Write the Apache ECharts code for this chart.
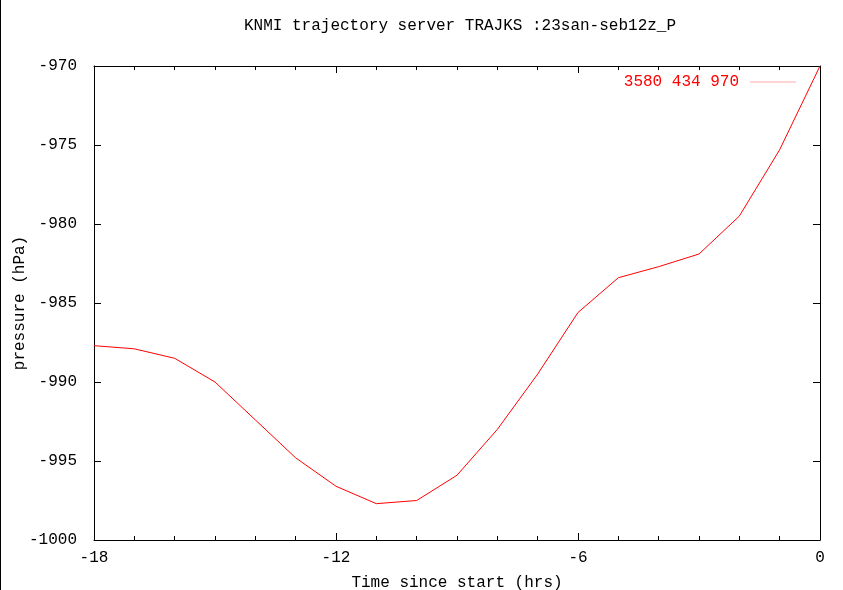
<!DOCTYPE html>
<html><head><meta charset="utf-8">
<script src="https://cdn.jsdelivr.net/npm/echarts@6/dist/echarts.min.js"></script>
<style>html,body{margin:0;padding:0;background:#fff}#c{width:843px;height:590px}</style>
</head><body><div id="c"></div>
<script>
var hours = [-18,-17,-16,-15,-14,-13,-12,-11,-10,-9,-8,-7,-6,-5,-4,-3,-2,-1,0];
var pressure = [-987.7,-987.9,-988.5,-990.0,-992.4,-994.8,-996.6,-997.7,-997.5,-995.9,-993.0,-989.5,-985.6,-983.4,-982.7,-981.9,-979.5,-975.3,-970.0];
var seriesName = '3580 434 970';
var titleText = 'KNMI trajectory server TRAJKS :23san-seb12z_P';
var xName = 'Time since start (hrs)';
var yName = 'pressure (hPa)';

var font = 'Liberation Mono';
var fs = 16;
var chart = echarts.init(document.getElementById('c'), null, {renderer:'canvas'});
var pts = hours.map(function(h,i){return [h, pressure[i]];});
function plain(v){ return String(v); }
function xAx(pos, show){
  return {type:'value', position:pos, min:-18, max:0, interval:6,
    axisLine:{show:true, onZero:false, lineStyle:{color:'#000', width:1}},
    axisTick:{show:true, inside:true, length:7, lineStyle:{color:'#000'}},
    minorTick:{show:true, splitNumber:6, length:4, lineStyle:{color:'#000'}},
    splitLine:{show:false},
    axisLabel:{show:show, color:'#000', fontFamily:font, fontSize:fs, margin:10, formatter:plain},
    name: show ? xName : '', nameLocation:'middle', nameGap:35, nameMoveOverlap:false,
    nameTextStyle:{color:'#000', fontFamily:font, fontSize:fs}
  };
}
function yAx(pos, show){
  return {type:'value', position:pos, min:-1000, max:-970, interval:5,
    axisLine:{show:true, onZero:false, lineStyle:{color:'#000', width:1}},
    axisTick:{show:true, inside:true, length:7, lineStyle:{color:'#000'}},
    splitLine:{show:false},
    axisLabel:{show:show, color:'#000', fontFamily:font, fontSize:fs, margin:17, formatter:plain},
    name: show ? yName : '', nameLocation:'middle', nameGap:66, nameRotate:90, nameMoveOverlap:false,
    nameTextStyle:{color:'#000', fontFamily:font, fontSize:fs}
  };
}
chart.setOption({
  animation:false,
  title:{text:titleText, left:455, textAlign:'center', top:13,
    textStyle:{color:'#000', fontFamily:font, fontSize:fs, fontWeight:'normal'}},
  grid:{left:94, right:23, top:66, bottom:50, containLabel:false, outerBoundsMode:'none'},
  legend:{right:42, top:69, align:'right', icon:'rect', itemWidth:46, itemHeight:1, itemGap:0,
    itemStyle:{color:'#ffaaaa'},
    textStyle:{color:'#ff0000', fontFamily:font, fontSize:fs, padding:[0,6,0,0]},
    data:[seriesName]},
  xAxis:[xAx('bottom', true), xAx('top', false)],
  yAxis:[yAx('left', true), yAx('right', false)],
  graphic:[{type:'line', shape:{x1:0.5,y1:0,x2:0.5,y2:590}, style:{stroke:'#000', lineWidth:1}}],
  series:[{name:seriesName, type:'line', data:pts, symbol:'none', xAxisIndex:0, yAxisIndex:0,
    lineStyle:{color:'#ff0000', width:1}, itemStyle:{color:'#ff0000'}}]
});
</script></body></html>
